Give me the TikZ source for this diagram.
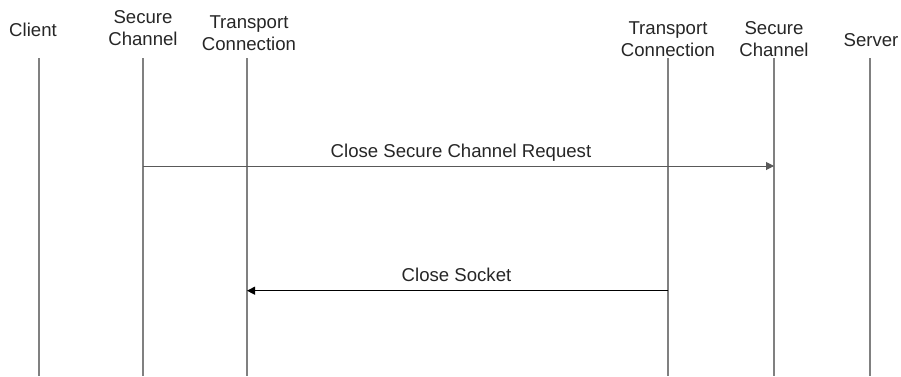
\documentclass[tikz,border=0pt]{standalone}
\usepackage{fontspec}
\setmainfont{Liberation Sans}
\usetikzlibrary{arrows.meta}

\begin{document}
\begin{tikzpicture}[
    x=0.5pt, y=-0.5pt,
    every node/.style={font=\fontsize{9.3}{11}\selectfont, align=center, inner sep=0pt, text=black!85},
    head/.style={anchor=center},
    label/.style={anchor=base},
    lifeline/.style={draw=black!50, line width=0.8pt},
    msg/.style={line width=0.5pt, -{Triangle[length=4pt,width=4pt]}}
]
\useasboundingbox (0,0) rectangle (901,376);

% headers
\node[head] (client) at (33,29.7) {Client};
\node[head] (cschan) at (143,28.3) {Secure\\Channel};
\node[head] (ctrans) at (249,33.3) {Transport\\Connection};
\node[head] (strans) at (668,39) {Transport\\Connection};
\node[head] (sschan) at (774,39) {Secure\\Channel};
\node[head] (server) at (871,40) {Server};

% lifelines
\coordinate (clientT) at (39,58);   \coordinate (clientB) at (39,376);
\coordinate (cschanT) at (143,58);  \coordinate (cschanB) at (143,376);
\coordinate (ctransT) at (247,58);  \coordinate (ctransB) at (247,376);
\coordinate (stransT) at (668,58);  \coordinate (stransB) at (668,376);
\coordinate (sschanT) at (774,58);  \coordinate (sschanB) at (774,376);
\coordinate (serverT) at (870,58);  \coordinate (serverB) at (870,376);
\foreach \n in {client,cschan,ctrans,strans,sschan,server}
    \draw[lifeline] (\n T) -- (\n B);

% messages
\coordinate (req) at (0,166);
\coordinate (sock) at (0,290.7);
\draw[msg, draw=black!65] (cschanT |- req) -- (sschanT |- req);
\node[label] (closereq) at (461,157.7) {Close Secure Channel Request};

\draw[msg, draw=black] (stransT |- sock) -- (ctransT |- sock);
\node[label] (closesock) at (456.5,281.7) {Close Socket};
\end{tikzpicture}
\end{document}
